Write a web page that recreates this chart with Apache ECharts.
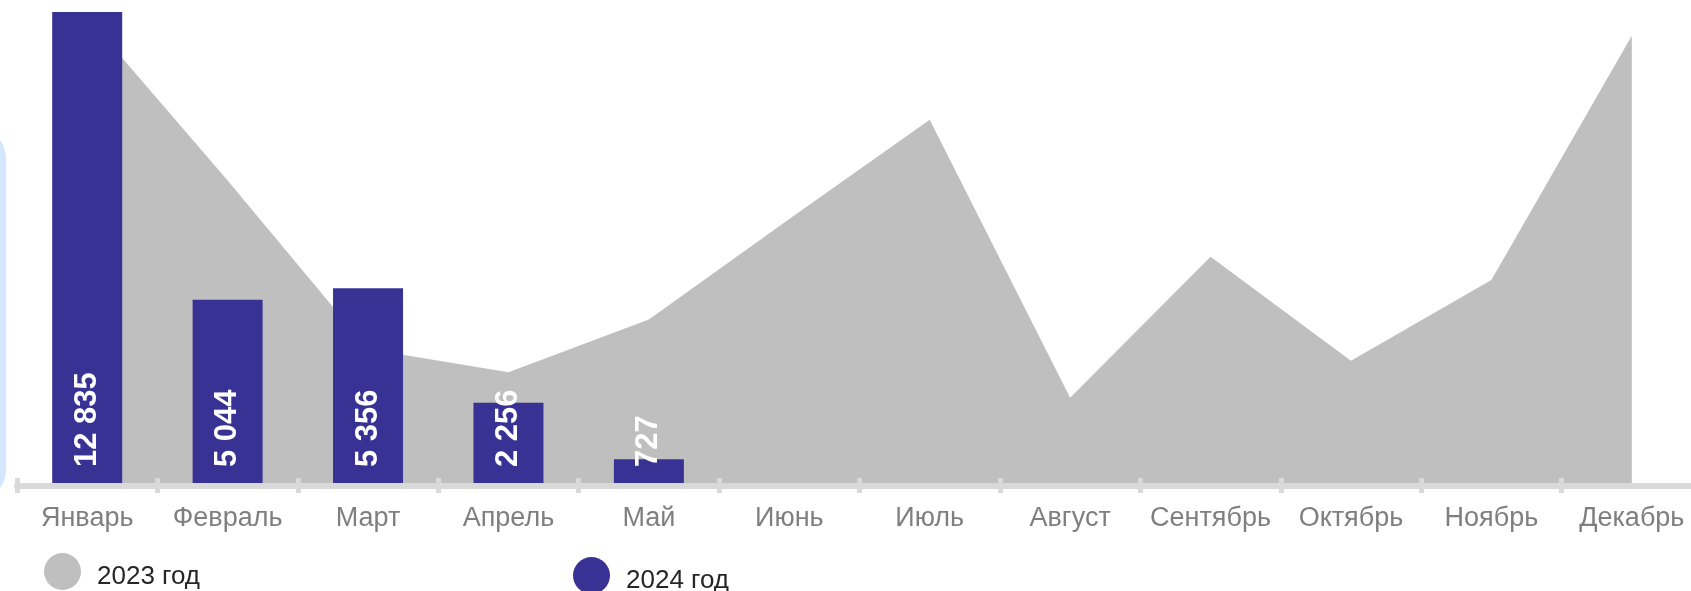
<!DOCTYPE html>
<html>
<head>
<meta charset="utf-8">
<script src="https://cdn.jsdelivr.net/npm/echarts@6/dist/echarts.min.js"></script>
<style>
html, body { margin: 0; padding: 0; background: #fff; }
#chart { width: 1691px; height: 591px; }
</style>
</head>
<body>
<div id="chart"></div>
<script>
const months = ['Январь', 'Февраль', 'Март', 'Апрель', 'Май', 'Июнь', 'Июль', 'Август', 'Сентябрь', 'Октябрь', 'Ноябрь', 'Декабрь'];
const values2023 = [12690, 8270, 3710, 3080, 4510, 7230, 9920, 2390, 6210, 3390, 5580, 12190];
const values2024 = [12835, 5044, 5356, 2256, 727];

const name2023 = '2023 год';
const name2024 = '2024 год';

function fmt(v) {
  return String(v).replace(/\B(?=(\d{3})+(?!\d))/g, ' ');
}

const chart = echarts.init(document.getElementById('chart'));

// legend text sits a bit lower than the circle centre
const legendText = { fontSize: 26, color: '#262626', lineHeight: 11, padding: [0, 0, 0, 11] };

const option = {
  animation: false,
  textStyle: { fontFamily: 'Liberation Sans, Arial, sans-serif' },
  graphic: [
    {
      type: 'rect',
      left: -80,
      top: 128,
      shape: { width: 86, height: 372, r: 30 },
      style: { fill: '#d3e8ff' },
      z: -10
    }
  ],
  legend: [
    {
      data: [name2023],
      left: 44,
      top: 553,
      padding: 0,
      icon: 'circle',
      itemWidth: 37,
      itemHeight: 37,
      formatter: n => '\n' + n,
      textStyle: legendText
    },
    {
      data: [name2024],
      left: 573,
      top: 557,
      padding: 0,
      icon: 'circle',
      itemWidth: 37,
      itemHeight: 37,
      formatter: n => '\n' + n,
      textStyle: legendText
    }
  ],
  grid: {
    left: 17,
    width: 1685,
    top: 12,
    bottom: 105,
    outerBoundsMode: 'none'
  },
  xAxis: [
    {
      type: 'category',
      data: months,
      position: 'bottom',
      boundaryGap: true,
      z: 5,
      axisLine: { lineStyle: { color: '#d9d9d9', width: 6 } },
      axisTick: { show: true, length: 7, lineStyle: { color: '#d9d9d9', width: 5 } },
      axisLabel: { interval: 0, fontSize: 27, color: '#7f7f7f', margin: 19 }
    },
    {
      type: 'category',
      data: months,
      position: 'bottom',
      boundaryGap: true,
      z: 5,
      axisLine: { show: false },
      axisTick: { show: true, inside: true, length: 8, lineStyle: { color: '#d9d9d9', width: 5 } },
      axisLabel: { show: false }
    }
  ],
  yAxis: {
    type: 'value',
    min: 0,
    max: 'dataMax',
    show: false,
    splitLine: { show: false }
  },
  series: [
    {
      name: name2023,
      type: 'line',
      data: values2023,
      symbol: 'none',
      itemStyle: { color: '#bfbfbf' },
      lineStyle: { width: 0, color: '#bfbfbf' },
      areaStyle: { color: '#bfbfbf', opacity: 1 },
      z: 1
    },
    {
      name: name2024,
      type: 'bar',
      data: values2024,
      barWidth: 70,
      itemStyle: { color: '#373294' },
      z: 3,
      label: {
        show: true,
        position: 'insideBottom',
        distance: 19,
        rotate: 90,
        align: 'left',
        verticalAlign: 'middle',
        color: '#fff',
        fontSize: 31,
        fontWeight: 'bold',
        formatter: p => fmt(p.value)
      }
    }
  ]
};

chart.setOption(option);
</script>
</body>
</html>
